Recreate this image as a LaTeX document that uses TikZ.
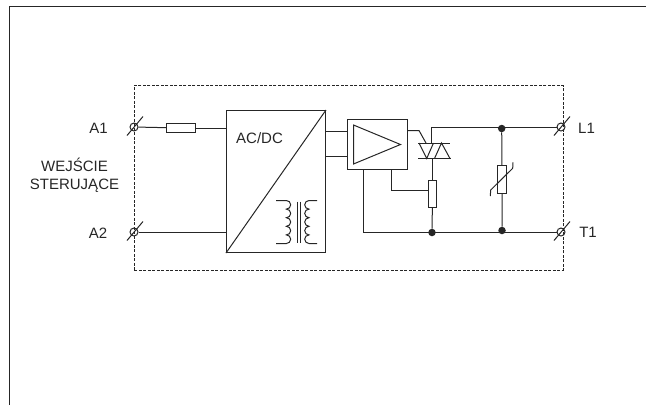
\documentclass[tikz,border=0pt]{standalone}
\usepackage{fontspec}
\setmainfont{Liberation Sans}
\begin{document}
\begin{tikzpicture}[x=1pt,y=-1pt]
    \definecolor{ink}{gray}{0.15}
    \tikzstyle{wire} = [draw=ink, line width=1pt]
    \tikzstyle{rec} = [rectangle, draw=ink, line width=1pt, inner sep=0pt,
        minimum height=9pt, minimum width=29pt]
    \tikzstyle{term} = [circle, draw=ink, line width=1pt, inner sep=0pt,
        minimum size=8pt]
    \tikzstyle{dot} = [circle, fill=ink, inner sep=0pt, minimum size=7.5pt]
    \tikzstyle{lbl} = [text=ink, font=\fontsize{15}{17.5}\selectfont, inner sep=0pt,
        align=center]

    \useasboundingbox (0,0) rectangle (646,405);
    \draw[wire] (9,405) -- (9,6) -- (646,6);

    \node(border) [rectangle, draw=ink, line width=0.8pt, dash pattern=on 3pt off 1.5pt,
        minimum width=428.5pt, minimum height=185pt, inner sep=0pt]
        at (134,85) [anchor=north west] {};

    \node(termaone) [term] at (134,127) {};
    \node(termatwo) [term] at (134,232) {};
    \node(termlone) [term] at (561,127) {};
    \node(termtone) [term] at (561,232) {};
    \foreach \t in {termaone,termatwo,termlone,termtone}
        \draw[wire] (\t) ++(-7,8.5) -- ++(16,-19);

    \node(inres) [rec] at (166,123) [anchor=north west] {};
    \node(acdc) [rec, minimum width=99pt, minimum height=142pt]
        at (226,110) [anchor=north west] {};
    \node(acdclabel) [lbl] at (259.5,138) {AC/DC};
    \node(amp) [rec, minimum width=60pt, minimum height=50pt]
        at (346.5,119) [anchor=north west] {};
    \node(gateres) [rec, minimum width=8.7pt, minimum height=27.5pt]
        at (427.5,179.5) [anchor=north west] {};
    \node(varistor) [rec, minimum width=8.5pt, minimum height=27.5pt]
        at (497.3,165) [anchor=north west] {};

    \node(dotl) [dot] at (501.7,128.5) {};
    \node(dott) [dot] at (502,230.5) {};
    \node(dotg) [dot] at (432,232.5) {};

    \node(aonelabel) [lbl] at (98.5,128) {A1};
    \node(atwolabel) [lbl] at (98,233) {A2};
    \node(lonelabel) [lbl] at (586.5,128) {L1};
    \node(tonelabel) [lbl] at (588,232.5) {T1};
    \node(inputlabel) [lbl] at (74.5,175.5) {WEJŚCIE\\ STERUJĄCE};

    \coordinate(triactop) at (431,143);
    \coordinate(triacbot) at (431,158.5);
    \coordinate(gatebend) at (419,130.5);
    \coordinate(gatetip) at (426,143);

    \draw[wire] (termaone) -- (inres);
    \draw[wire] (inres) -- (inres -| acdc.west);
    \draw[wire] (termatwo) -- (termatwo -| acdc.west);
    \draw[wire] (acdc.east |- 0,131) -- (amp.west |- 0,131);
    \draw[wire] (acdc.east |- 0,156) -- (amp.west |- 0,156);
    \draw[wire] (acdc.south west) -- (acdc.north east);

    \draw[wire] (amp.east |- gatebend) -- (gatebend) -- (gatetip);
    \draw[wire] (triactop) -- (triactop |- termlone) -- (termlone);
    \draw[wire] (triacbot) -- (triacbot -| gateres.north) -- (gateres.north);
    \draw[wire] (gateres.south) -- (dotg);
    \draw[wire] (gateres.west |- 0,190.5) -- (391.7,190.5) -- (amp.south -| 391.7,0);
    \draw[wire] (amp.south -| 363.3,0) -- (363.3,232) -- (termtone);
    \draw[wire] (dotl) -- (varistor);
    \draw[wire] (varistor) -- (dott);
    \draw[wire] (490.3,196) -- (490.7,190) -- (512.7,168.3) -- (513,162.3);

    % triangle of the amplifier
    \draw[wire] (353.5,125) -- (400.5,144.5) -- (353.5,164) -- cycle;

    % triac
    \draw[wire] (418,143) -- (450,143);
    \draw[wire] (418,158.5) -- (451,158.5);
    \draw[wire] (419,143) -- (426.7,158.5) -- (433.5,143);
    \draw[wire] (434.5,158.5) -- (441.5,143) -- (450,158.5);

    % transformer
    \draw[wire] (297.6,201.5) -- (297.6,243);
    \draw[wire] (300.6,201.5) -- (300.6,243);
    \draw[wire] (276,200.5) -- (286.4,200.5)
        \foreach \b in {1,...,5} {arc[start angle=90, end angle=-90, radius=4.3pt]}
        -- (276,243.5);
    \draw[wire] (317,200.5) -- (309,200.5)
        \foreach \b in {1,...,5} {arc[start angle=90, end angle=270, radius=4.3pt]}
        -- (317,243.5);
\end{tikzpicture}
\end{document}
